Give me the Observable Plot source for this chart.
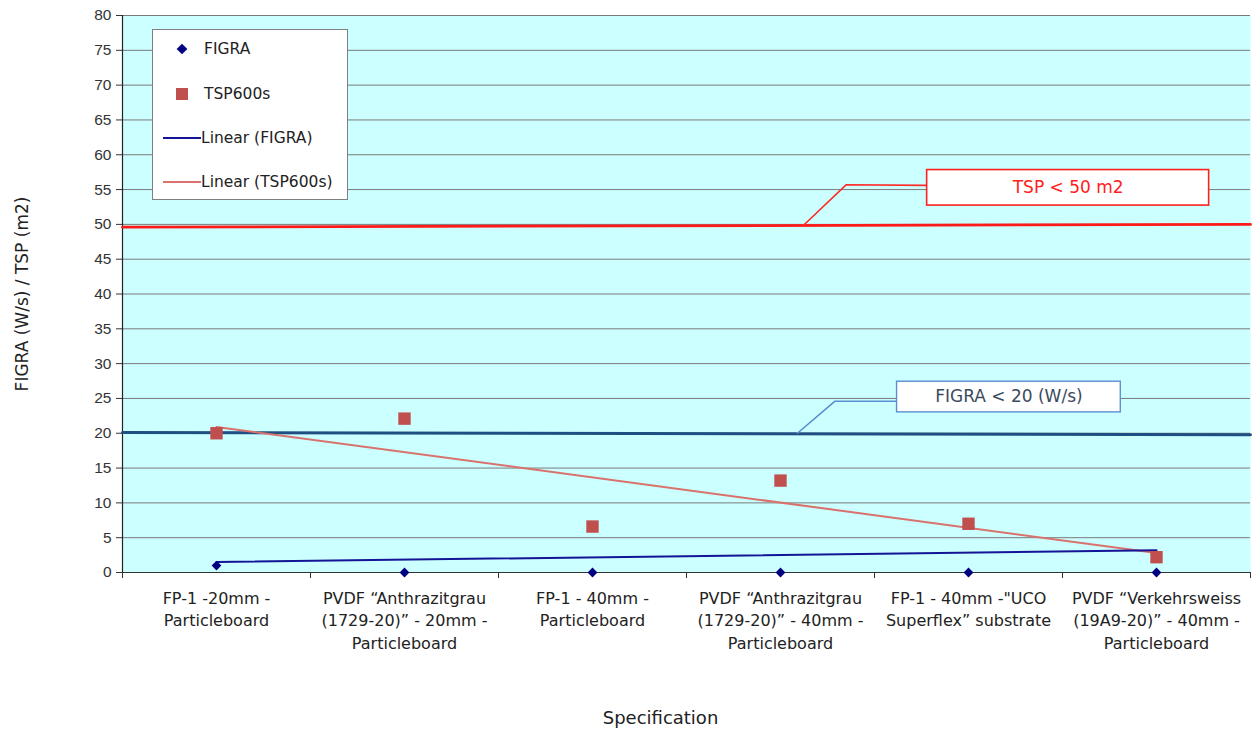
<!DOCTYPE html>
<html><head><meta charset="utf-8">
<script src="https://cdn.jsdelivr.net/npm/d3@7"></script>
<script src="https://cdn.jsdelivr.net/npm/@observablehq/plot@0.6"></script>
<style>
body{margin:0;background:#fff;}
#wrap{position:relative;width:1256px;height:740px;overflow:hidden;}
#legend{position:absolute;left:152px;top:29px;width:194px;height:169px;background:#fff;border:1px solid #7f7f7f;}
</style>
</head><body><div id="wrap"></div><script>
// ---- data ----
const categories = [
  "FP-1 -20mm -\nParticleboard",
  "PVDF \u201cAnthrazitgrau\n(1729-20)\u201d - 20mm -\nParticleboard",
  "FP-1 - 40mm -\nParticleboard",
  "PVDF \u201cAnthrazitgrau\n(1729-20)\u201d - 40mm -\nParticleboard",
  "FP-1 - 40mm -\"UCO\nSuperflex\u201d substrate",
  "PVDF \u201cVerkehrsweiss\n(19A9-20)\u201d - 40mm -\nParticleboard"
];
const figra = [1, 0, 0, 0, 0, 0];
const tsp = [20, 22.1, 6.6, 13.2, 7.0, 2.2];
const figraTrend = [1.5, 3.2];   // Linear (FIGRA) at first / last category
const tspTrend = [20.9, 2.8];    // Linear (TSP600s) at first / last category
const tspLimit = [49.6, 50.0];   // left / right plot edge
const figraLimit = [20.1, 19.8];
const yTicks = [0,5,10,15,20,25,30,35,40,45,50,55,60,65,70,75,80];
const xBoundaries = [0.5,1.5,2.5,3.5,4.5,5.5,6.5];
// callouts (data units)
const tspBox = {x1: 4.78, x2: 6.28, y1: 52.7, y2: 57.8, label: "TSP < 50 m2"};
const tspLeader = [[4.12, 49.8], [4.35, 55.7], [4.78, 55.6]];
const figraBox = {x1: 4.62, x2: 5.81, y1: 23.0, y2: 27.4, label: "FIGRA < 20 (W/s)"};
const figraLeader = [[4.09, 20.0], [4.29, 24.6], [4.62, 24.6]];
const legendItems = ["FIGRA", "TSP600s", "Linear (FIGRA)", "Linear (TSP600s)"];

// ---- build ----
const idx = categories.map((d, i) => i + 1);
const figraData = figra.map((v, i) => ({x: i + 1, y: v}));
const tspData = tsp.map((v, i) => ({x: i + 1, y: v}));
const n = categories.length;
const sans = "DejaVu Sans";

const chart = Plot.plot({
  width: 1256, height: 740,
  marginLeft: 122, marginRight: 6, marginTop: 15, marginBottom: 168,
  style: {background: "#fff", fontFamily: "Liberation Sans, Arial, sans-serif"},
  x: {domain: [0.5, n + 0.5]},
  y: {domain: [0, 80]},
  marks: [
    Plot.frame({fill: "#ccffff", stroke: "none"}),
    Plot.gridY(yTicks, {stroke: "#7a7a7a", strokeOpacity: 1, strokeWidth: 1}),
    Plot.ruleY([0], {stroke: "#333", strokeWidth: 1.2}),
    Plot.ruleX([0.5], {stroke: "#222", strokeWidth: 1.2}),
    Plot.axisY({ticks: yTicks, tickSize: 6, tickPadding: 5, fontSize: 15.5, label: null, color: "#333"}),
    Plot.axisX({ticks: xBoundaries, tickSize: 6, tickFormat: () => "", label: null, color: "#333"}),
    // limits
    Plot.line([{x: 0.5, y: tspLimit[0]}, {x: n + 0.5, y: tspLimit[1]}], {x: "x", y: "y", stroke: "#ff1a1a", strokeWidth: 2.8}),
    Plot.line([{x: 0.5, y: figraLimit[0]}, {x: n + 0.5, y: figraLimit[1]}], {x: "x", y: "y", stroke: "#1f4e82", strokeWidth: 3}),
    // callout leaders
    Plot.line(tspLeader, {x: d => d[0], y: d => d[1], stroke: "#ff2a2a", strokeWidth: 1.6}),
    Plot.line(figraLeader, {x: d => d[0], y: d => d[1], stroke: "#5b8fd0", strokeWidth: 1.6}),
    Plot.rect([tspBox], {x1: "x1", x2: "x2", y1: "y1", y2: "y2", fill: "#fff", stroke: "#ff2020", strokeWidth: 1.6}),
    Plot.text([tspBox], {x: d => (d.x1 + d.x2) / 2, y: d => (d.y1 + d.y2) / 2, text: "label", fill: "#ff2020", fontSize: 17, fontFamily: sans}),
    Plot.rect([figraBox], {x1: "x1", x2: "x2", y1: "y1", y2: "y2", fill: "#fff", stroke: "#5b8fd0", strokeWidth: 1.4}),
    Plot.text([figraBox], {x: d => (d.x1 + d.x2) / 2, y: d => (d.y1 + d.y2) / 2, text: "label", fill: "#3b4a60", fontSize: 17, fontFamily: sans}),
    // trend lines
    Plot.line([{x: 1, y: tspTrend[0]}, {x: n, y: tspTrend[1]}], {x: "x", y: "y", stroke: "#d9726c", strokeWidth: 2}),
    Plot.line([{x: 1, y: figraTrend[0]}, {x: n, y: figraTrend[1]}], {x: "x", y: "y", stroke: "#141496", strokeWidth: 2}),
    // points
    Plot.dot(tspData, {x: "x", y: "y", symbol: "square", r: 7, fill: "#c0504d", stroke: "none"}),
    Plot.dot(figraData, {x: "x", y: "y", symbol: "diamond2", r: 4.4, fill: "#000080", stroke: "none"}),
    // category labels
    Plot.text(idx, {x: d => d, y: 0, text: d => categories[d - 1], lineAnchor: "top", dy: 15, fontSize: 16, lineHeight: 1.42, fill: "#222", fontFamily: sans}),
    // axis titles
    Plot.text(["FIGRA (W/s) / TSP (m2)"], {frameAnchor: "left", textAnchor: "middle", rotate: -90, dx: -100, fontSize: 17, fill: "#222", fontFamily: sans}),
    Plot.text(["Specification"], {frameAnchor: "bottom", dy: 151, dx: -26, fontSize: 18, fill: "#222", fontFamily: sans})
  ]
});
const wrap = document.getElementById("wrap");
wrap.appendChild(chart);

// legend
const leg = document.createElement("div");
leg.id = "legend";
const rows = [19, 64, 108, 152];
let svg = `<svg width="194" height="169" xmlns="http://www.w3.org/2000/svg" style="font-family:'DejaVu Sans',sans-serif;font-size:15.5px;fill:#222">`;
svg += `<rect x="${29-3.8}" y="${rows[0]-3.8}" width="7.6" height="7.6" fill="#000080" transform="rotate(45 29 ${rows[0]})"/>`;
svg += `<rect x="${29-6}" y="${rows[1]-6}" width="12" height="12" fill="#c0504d"/>`;
svg += `<line x1="10" x2="48" y1="${rows[2]}" y2="${rows[2]}" stroke="#141496" stroke-width="2"/>`;
svg += `<line x1="10" x2="48" y1="${rows[3]}" y2="${rows[3]}" stroke="#d9726c" stroke-width="2"/>`;
const tx = [51, 51, 48, 48];
legendItems.forEach((t, i) => { svg += `<text x="${tx[i]}" y="${rows[i]}" dy="0.35em">${t}</text>`; });
svg += `</svg>`;
leg.innerHTML = svg;
wrap.appendChild(leg);
</script></body></html>
